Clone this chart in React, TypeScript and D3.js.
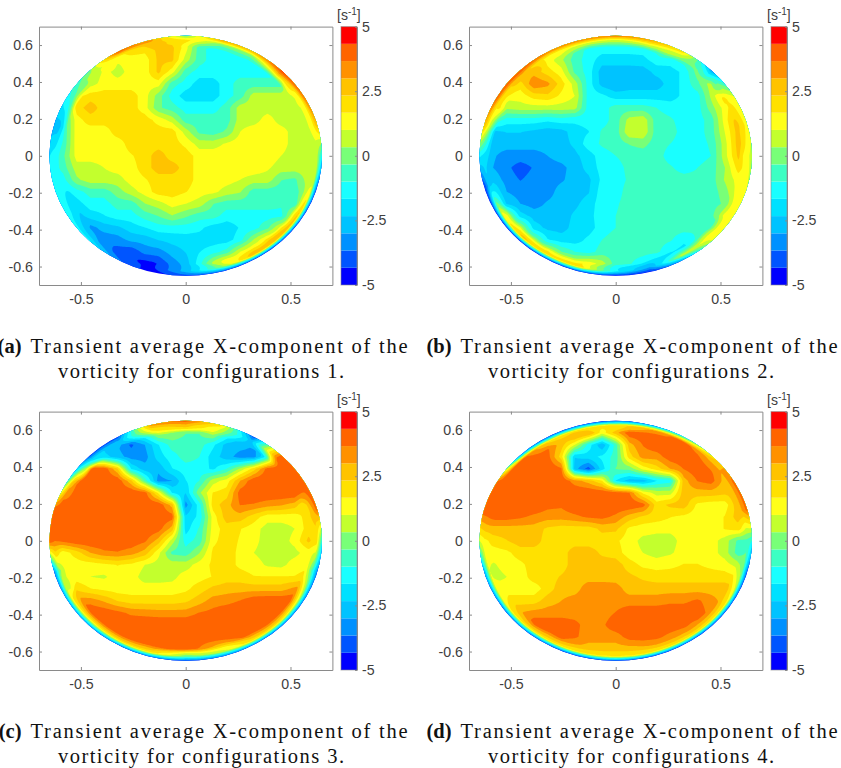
import * as d3 from "d3";
import { useEffect, useMemo, useRef } from "react";

const xTicks = [-0.5, 0, 0.5];
const yTicks = [-0.6, -0.4, -0.2, 0, 0.2, 0.4, 0.6];
const barTicks = [-5, -2.5, 0, 2.5, 5];
const bandColors = [
  "#0000ff", "#0055ff", "#0091ff", "#00c3ff", "#00e1ff",
  "#19ffff", "#3cffc3", "#78ff78", "#c3ff2d", "#ffff19",
  "#ffe100", "#ffc300", "#ff9100", "#ff6400", "#ff0000",
];

// readings on a 0.065 grid, top row first, each row centred on x = 0
const vorticityA = [
  [2, 0.7, -0.7],
  [2, 2, 2.5, 2.5, 1.3, -0.7, -1.3, -1.3, -0.7],
  [3, 1.1, 1.3, 1.3, 2.5, 2.5, 0.7, -0.7, -1.3, -1.3, -1.3, -1.3, -1.3],
  [0, 1.3, 0.7, 1.3, 1.3, 2.5, 1.3, -0.7, -1.3, -1.3, -1.3, -1.3, -1.3, -1.3, -1.3],
  [-0.7, 0.7, 1.3, 1.3, 1.3, 1.3, 1.3, -0.7, -1.3, -2, -2, -1.3, -0.7, -0.7, -0.7, -0.7, 3],
  [-1, 1.4, 2, 2, 2, 2, 1.3, 0, -1.3, -2, -2, -2, -1.3, -0.7, 0.7, 0.7, 0.7, 0.7, 3],
  [-1, 2, 2.7, 2, 2, 2, 1.3, -0.2, -0.7, -1.3, -1.3, -1.3, -0.7, 0.7, 0.7, 0.7, 0.7, 0.7, 0.7],
  [-1, 1.4, 2, 2, 2, 2, 2, 1.4, 0.7, -0.7, -0.7, -0.7, -0.7, 0.7, 0.7, 1.3, 0.7, 0.7, 0.7],
  [-1, 1.4, 1.3, 1.3, 2, 2, 2, 2, 2, 0.7, -0.5, -0.7, -0.2, 1, 1.4, 1.4, 1.3, 0.7, 0.7],
  [-0.9, 1.4, 1.4, 1.3, 1.3, 2, 2, 2, 2, 1.5, 0.7, 0.7, 1.1, 1.4, 1.4, 1.4, 1.3, 0.7, 0.7],
  [-1.3, -0.5, 1.3, 1.3, 1.3, 1.3, 1.6, 2, 2.7, 2, 2, 1.4, 1.4, 1.4, 1.4, 1.4, 1.4, 1, 0.7, 0.7, -1.3],
  [-0.7, 0.7, 0.7, 1, 1.3, 1.4, 2, 2.7, 2.7, 2, 1.4, 1.4, 1.4, 1.4, 1.4, 1.1, 0.7, 0.7, 0.7],
  [-1.3, 0.2, 0.7, 0.7, 0.7, 1.3, 1.6, 2, 2, 2, 1.4, 1.4, 1.3, 1, 0.7, 0.7, -0.3, -0.5, 0.7],
  [-2, -1.3, -0.7, -0.7, 0, 0.7, 1.3, 2, 2, 1.7, 1.3, 1.2, 0.7, 0.4, -0.7, -0.7, -0.7, -0.7, 0.5],
  [-2.7, -2, -1.3, -1.3, -0.7, -0.7, 0.3, 0.7, 1.3, 1, 0.7, -0.3, -0.7, -0.7, -0.7, -0.7, -0.9, -0.7, 1.3],
  [-2.7, -2, -1.7, -1.3, -1.3, -0.7, -0.3, 0.3, -0.2, -0.7, -0.7, -1.3, -1.3, -1.3, -1.3, -1.2, 1],
  [-3.3, -2.7, -2.5, -2, -1.7, -1.3, -1.3, -1.3, -1.5, -2, -2.1, -1.6, -1.3, -0.5, 1.2],
  [-3.5, -3.5, -3.3, -2.8, -2.7, -2.3, -2.1, -2, -2, -2, -2, -1.3, 0.4, 1.8, 2.5],
  [-4, -4.2, -3.4, -3.3, -2.7, -2.3, -1.7, -1.3, -0.7, 1, 2],
  [-4.7, -4.7, -4.3, -3.4, -2.7, -1.3, 0.7, 2.3, 2.3],
  [-4, -3, -3],
];
const vorticityB = [
  [-0.7, 0, -0.7],
  [1.3, -0.3, -1.3, -1.3, -1.3, -1.3, -1.3, -0.7, 1.3],
  [4, 1.3, 0.5, -0.7, -1.3, -2, -2, -2, -1.9, -1.3, -1.3, -0.7, 0.7],
  [2.7, 2.7, 2, 1.3, -0.5, -1.3, -2.7, -2.7, -2.7, -2.7, -2.1, -2, -1.5, 0, -1],
  [3, 2, 3.6, 3.2, 2, 0.7, -1.3, -2.6, -3, -2.7, -2.7, -2.7, -2, -1.5, -0.5, 0.7, -2.5],
  [2, 1.3, 1.3, 2, 2.2, 1.5, 1, -1.3, -1.5, -2, -2, -2, -2, -2, -1.5, -1.3, 0.5, 2.3, 1.5],
  [3, 0.5, 0.7, 0.7, 0.7, 0.7, 0.6, -1.3, -1.3, -0.7, -0.7, -0.7, -1, -1.3, -1.3, -1.3, 0, 1.3, 2.7],
  [-0.3, -1.3, -1.3, -1.3, -1.5, -1.3, -1.5, -1.4, -1.3, -0.7, 0.6, 0.8, -0.7, -0.9, -1.3, -1.3, -0.7, 1.3, 3],
  [-2.5, -2.3, -2.3, -2.5, -2.7, -2.6, -2, -1.7, -0.9, -0.7, 0.9, 0.9, -0.7, -0.7, -1.3, -1.3, -0.7, 1, 2.7],
  [-2.7, -2.7, -2.7, -2.7, -2.7, -2.6, -2.2, -1.3, -0.9, -0.7, -0.3, -0.1, -0.7, -1, -1.3, -1.3, -0.9, 0.7, 2.7],
  [-2, -2.9, -3.3, -3.3, -3.3, -3, -2.7, -2.5, -2, -1.3, -1, -0.7, -0.7, -0.7, -1.3, -1.3, -1.3, -1, 0.7, 2.5, 1],
  [-3, -3.5, -4, -3.6, -3.3, -3.2, -2.7, -2.1, -1.4, -1.3, -0.8, -0.7, -0.7, -0.9, -1.3, -1, -0.7, 0.3, 2],
  [-2.5, -3.3, -3.7, -3.4, -3.3, -3.1, -2.7, -2.5, -1.5, -1.3, -0.9, -0.7, -0.7, -0.7, -0.7, -0.8, -0.7, 0.4, 1.3],
  [-1.5, -3, -3.3, -3.3, -3.3, -2.7, -2.7, -2.4, -1.3, -1.3, -0.7, -0.7, -0.7, -0.7, -0.7, -0.7, -0.7, 0, 1.3],
  [-0.5, -2.4, -3, -3.3, -2.9, -2.7, -2.5, -2, -1.3, -1.1, -0.7, -0.7, -0.7, -0.7, -0.7, -0.7, -0.7, -0.2, 1],
  [0.7, -2, -2.6, -2.7, -2.7, -2.2, -1.9, -1.3, -1, -0.7, -0.7, -0.7, -0.7, -0.7, -0.7, -0.6, 1],
  [0.7, -2, -2.5, -2.6, -2.1, -2, -1.3, -1, -0.7, -0.7, -0.7, -0.7, -0.7, -1, -0.8],
  [1.5, 0.3, -1.6, -2, -2, -1.5, -1, -0.7, -0.7, -0.7, -0.7, -0.9, -1.5, -0.9, 1.3],
  [1.3, -0.3, -1, -1.3, -0.7, -0.7, -0.7, -0.7, -0.8, -1.6, -2],
  [2, 1.3, 1.5, 0.7, -0.7, -0.9, -1.5, -2.5, -3],
  [-2, -3, -4],
];
const vorticityC = [
  [3, 3.3, 3],
  [-1.3, -0.7, 0.7, 0.3, -0.3, -0.3, 0.7, -0.7, -2],
  [-3, -3, -3.8, -3, -1.7, -0.7, -0.7, -0.7, -1.5, -2.6, -2.7, -3, -3],
  [-2, -2, -2.7, -3.3, -3.3, -2, -1.3, -0.7, -1, -2, -2.7, -3.3, -3.3, -1.3, 3],
  [0, 4.2, 4.2, 2.4, -1.7, -2.7, -2.8, -1.7, -1.3, -1.3, -1.8, -1, 0.5, 2, 4, 4.3, 4],
  [1, 4.3, 4.3, 4.3, 4.2, 2.5, -0.5, -3.3, -3, -1.7, -1, 0.7, 1.3, 3, 4.2, 4.3, 4.3, 4.2, 2.7],
  [3, 4.3, 4.3, 4.3, 4.3, 4.3, 4, 1.5, -1.7, -2.3, 0.2, 1.7, 2, 4, 4.3, 4.3, 4.3, 4.3, 3],
  [4.3, 4.3, 4.3, 4.3, 4.3, 4.3, 4.3, 4.2, 2.7, -3.3, -1.3, 2, 2.7, 3.7, 3.6, 3.3, 3.1, 2.7, 1.3],
  [4.3, 4.3, 4.3, 4.3, 4.3, 4.3, 4.3, 4.3, 4, -2.2, -1.5, 1.3, 2.7, 2.7, 2, 1.3, 1.3, 1.3, 2],
  [4.3, 4.3, 4.3, 4.3, 4.3, 4.3, 4.3, 4, 2.7, -2, -0.9, 1.3, 2, 1.7, 1.3, 0.7, 0.7, 1, 2],
  [3.6, 3.9, 4.3, 4.3, 4.3, 4.3, 4.2, 3.8, 2.7, 0.7, -1.3, -0.7, 1.5, 2, 1.6, 1.2, 0.7, 0.7, 1.2, 2.5, 2],
  [1.3, 2, 3, 3.5, 3.6, 3.3, 2.7, 1.2, -0.5, -0.7, 0.3, 1.8, 2, 1.5, 1, 0.7, 0.7, 0.8, 1.3],
  [1.3, 1.3, 1.3, 1.5, 1.7, 1.5, 1, 0.7, 0.7, 0.7, 1.3, 1.8, 2, 1.5, 1.3, 0.9, 0.8, 1.3, 1.5],
  [1.3, 1.3, 1, 0.9, 1.3, 1.3, 0.7, 0.7, 0.8, 1.3, 1.4, 1.7, 2, 2, 1.7, 1.7, 1.7, 1.7, 2],
  [-0.5, 2.2, 1.7, 1.5, 1.3, 1.3, 1.3, 1.3, 1.3, 1.5, 2, 2.5, 2.7, 2.7, 2.7, 2.7, 2.7, 3.2, 3.5],
  [3.3, 3.4, 2.9, 2.3, 2, 2, 2, 2, 2.2, 2.7, 3.3, 3.4, 3.7, 4.2, 4.3, 4.3, 4.3],
  [4.3, 4.2, 3.9, 3.5, 3.4, 3.3, 3.3, 3.3, 3.7, 3.9, 4.2, 4.3, 4.3, 4.3, 4.3],
  [4.3, 4.3, 4.3, 4.3, 4.3, 4.3, 4.3, 4.3, 4.3, 4.3, 4.3, 4.3, 4.3, 4.3, 4],
  [4.3, 4.3, 4.3, 4.3, 4.3, 4.3, 4.3, 4.3, 4.3, 4, 3.6],
  [3.7, 3.5, 3.8, 4, 4, 3.6, 2.7, 1.5, 1],
  [0, -1, 0],
];
const vorticityD = [
  [1, 1, 1],
  [3, 4, 3.3, 1.3, 2.7, 4.2, 4.2, 4.2, 3.7],
  [3, 3.7, 2.7, 1, -1.3, -2.9, -0.7, 2.7, 3.7, 4.2, 4.3, 4.2, 3.8],
  [4, 4.2, 4, 2, -2.3, -2, -1.5, -0.7, 2, 3.3, 3.3, 4.1, 4.2, 4.2, 3],
  [4, 4.3, 4.3, 4.3, 3.8, -2.7, -4, -2, -0.3, -0.1, 1.2, 2, 3, 3.7, 4.2, 3.7, 2.7],
  [4, 4.3, 4.3, 4.3, 4.3, 4.3, 3.3, 2.7, 1.7, -1.7, -2.7, -2.7, -1.7, -1.3, 2.7, 3.7, 4, 2.7, 2],
  [4.2, 4.3, 4.3, 4.3, 4.3, 4.3, 4.3, 4.3, 4.2, 4, 3.7, 1.5, 0.7, 0.7, 2.7, 2.7, 2.7, 2.5, 2.7],
  [4.3, 4.3, 4.3, 4.3, 3.9, 3.8, 4.3, 4.3, 4.3, 4.3, 4.3, 4, 2, 2.5, 2.7, 1.5, 1.3, 1.3, 2.7],
  [4, 4, 3.8, 3.5, 3.3, 3.3, 3.5, 3.8, 3.9, 3.5, 2.7, 2.2, 2, 1.7, 1.5, 1.3, 1.3, 1.7, 2.7],
  [2.7, 2.7, 2.7, 2.7, 2.2, 2, 2, 2, 2.5, 2.5, 1.5, 1.3, 1.2, 1.2, 1.3, 1.3, 1.3, 1.7, 2],
  [1.5, 2, 2.3, 2.7, 2.7, 2, 2, 2, 2, 2, 1.8, 1.3, 0.8, 0.7, 0.7, 1.3, 1.3, 1.3, 0.7, -0.5, -0.7],
  [1.3, 1.5, 2, 2, 2, 2, 2.7, 2.7, 2.2, 2, 1.3, 1, 0.7, 0.9, 1.3, 1.3, 1.3, 0.7, -0.7],
  [0.9, 1.3, 1.5, 2, 2, 2, 2.7, 2.7, 2.7, 2.7, 2, 1.5, 1.4, 1.5, 1.7, 1.7, 1.5, 1.3, 0.7],
  [0.7, 1, 1.3, 2, 2, 2.4, 2.7, 2.7, 2.7, 2.7, 2.5, 2.2, 2, 2, 2, 2, 2, 2, 1.7],
  [1.3, 1.3, 1.3, 1.3, 2, 2.7, 2.7, 3.4, 3.4, 3.3, 2.7, 2.7, 2.7, 2.7, 2.7, 2.7, 2.7, 2.7, 2.5],
  [2, 2, 2, 2.7, 3, 3.3, 3.5, 3.5, 3.3, 3.3, 3.3, 3.3, 3.5, 3.5, 3.8, 3.3, 2.7],
  [3, 3.3, 3.3, 3.3, 3.3, 3.3, 3.3, 3.7, 4.2, 4.2, 4.2, 4.2, 4.2, 4.2, 3.3],
  [3.3, 4.2, 4.2, 4.2, 3.9, 3.3, 3.5, 4.2, 4.3, 4.3, 4.3, 4.2, 3.9, 3.3, 2.7],
  [3.3, 3.9, 3.8, 3.3, 3.3, 3.3, 4, 4.1, 3.9, 3.4, 3],
  [2.7, 2.7, 2.7, 2.7, 2.7, 2.7, 2.7, 2.7, 2.5],
  [2, 2, 2],
];

// values on the rim every 15 degrees, counter-clockwise from +x
const rimOuterA = [-1.3, 3, 4, 4.5, 3, 3.3, 0, 3.3, 4.3, 0, -1.3, -2.7, -1.7, -1.3, -1.3, -1.5, -3.5, -4.7, -4, -4, -4.3, -4.3, -4.3, -4];
const rimInnerA = [0.7, 1.3, 1.3, 2.7, 0, 0, 2, 2.6, 1.5, 0.7, -0.7, -2.7, -1.3, -1.3, -1.7, -2.7, -4, -4.5, -2.7, 0, 2.7, 3, 2.5, 1];
const rimOuterB = [0.7, 1.3, 1, -3, 2, 3.3, 3.7, 3.7, 3.7, 4.3, 4.3, 3, -1.5, -4.5, -4.5, -4.5, -4.5, -4.3, -4.5, -4.5, -3, 1, 1, 1];
const rimInnerB = [1.3, 2, 1.5, -1.5, 0.7, 1.3, 0.7, 1, 1.3, 2.7, 2, 1, -2, -2.5, 1.3, 2.7, 2, 2, -1.5, -3, 0.7, 1.3, 1.3, 1.3];
const rimOuterC = [-1, 4, 4.3, 4, -4, 2, 4, 3.3, -4, -4, -0.7, 4.2, 4.2, -3.5, -3, -3, -3.5, -3.5, -4, -3.5, -3.5, -3.5, -3.5, -3.5];
const rimInnerC = [2, 2.7, 4.2, 4.2, -2.7, 1, 2.7, 2, -2.7, -2, 2.7, 4.3, 3.7, 0, 1.5, 1.5, 2, 2, 0, 0.7, 2, 2, 1, -0.7];
const rimOuterD = [-1, 4, 4, 2, -1, -3, -4, -4, -4, -3, 3.7, 4.2, 1, -3, -3.5, -3.5, -4, -4, -4, -4, -4, -4, -4, -4];
const rimInnerD = [-0.5, 3, 3, 3, 4, 3, 2, 2, 2, 4, 4.3, 4.2, 1.5, 1, 1.3, 2, 2, 2, 1.7, 2, 2, 2, 1.5, 0];

const panels = [
  { label: "(a)", config: 1, rows: vorticityA, outer: rimOuterA, inner: rimInnerA, dx: 0, dy: 0 },
  { label: "(b)", config: 2, rows: vorticityB, outer: rimOuterB, inner: rimInnerB, dx: 430, dy: 0 },
  { label: "(c)", config: 3, rows: vorticityC, outer: rimOuterC, inner: rimInnerC, dx: 0, dy: 385 },
  { label: "(d)", config: 4, rows: vorticityD, outer: rimOuterD, inner: rimInnerD, dx: 430, dy: 385 },
];

const R = 0.65;
const gridStep = 0.065;
const gridSize = 21;
const fineStep = 0.005;
const fineEdge = 0.66;
const fineSize = Math.round((2 * fineEdge) / fineStep) + 1;

const axisColor = "#8a8a8a";
const textColor = "#404040";
const sansFont = "'Liberation Sans', Arial, sans-serif";
const serifFont = "'Liberation Serif', 'Times New Roman', serif";

function padRows(rows: number[][]) {
  return rows.map((row) => {
    const start = (gridSize - row.length) / 2;
    return d3.range(gridSize).map((i) => row[Math.min(row.length - 1, Math.max(0, i - start))]);
  });
}

function rimAt(rim: number[], angle: number) {
  const t = angle / 15;
  const a = Math.floor(t) % 24;
  return d3.interpolateNumber(rim[a], rim[(a + 1) % 24])(t - Math.floor(t));
}

// resample the readings to a fine raster so d3.contours can trace the bands
function buildField(rows: number[][], outer: number[], inner: number[]) {
  const grid = padRows(rows);
  const values = new Float64Array(fineSize * fineSize);
  for (let j = 0; j < fineSize; j++) {
    const y = fineEdge - j * fineStep;
    for (let i = 0; i < fineSize; i++) {
      const x = -fineEdge + i * fineStep;
      const gx = Math.min(gridSize - 1.001, Math.max(0, (x + R) / gridStep));
      const gy = Math.min(gridSize - 1.001, Math.max(0, (R - y) / gridStep));
      const ix = Math.floor(gx);
      const iy = Math.floor(gy);
      const fx = gx - ix;
      const fy = gy - iy;
      const top = grid[iy][ix] * (1 - fx) + grid[iy][ix + 1] * fx;
      const bottom = grid[iy + 1][ix] * (1 - fx) + grid[iy + 1][ix + 1] * fx;
      let v = top * (1 - fy) + bottom * fy;
      const r = Math.hypot(x, y);
      if (r > R - 0.06) {
        const angle = ((Math.atan2(y, x) * 180) / Math.PI + 360) % 360;
        const a = rimAt(outer, angle);
        const b = rimAt(inner, angle);
        if (r >= R) v = a;
        else if (r >= R - 0.025) v = b + ((a - b) * (r - (R - 0.025))) / 0.025;
        else v = v + ((b - v) * (r - (R - 0.06))) / 0.035;
      }
      values[i + j * fineSize] = Math.max(-4.99, Math.min(4.99, v));
    }
  }
  return values;
}

const bandEdges = d3.range(bandColors.length).map((k) => -5 + (k * 10) / bandColors.length);

function styleAxis(g: any) {
  g.selectAll(".domain").attr("stroke", axisColor);
  g.selectAll(".tick line").attr("stroke", axisColor);
  g.selectAll(".tick text")
    .attr("fill", textColor)
    .attr("font-family", sansFont)
    .attr("font-size", 14.2);
}

function Panel({ panel, index }: { panel: (typeof panels)[number]; index: number }) {
  const gLeft = useRef<SVGGElement>(null);
  const gRight = useRef<SVGGElement>(null);
  const gTop = useRef<SVGGElement>(null);
  const gBottom = useRef<SVGGElement>(null);
  const gBar = useRef<SVGGElement>(null);

  const left = 39;
  const right = 332.4;
  const top = 26.6;
  const bottom = 285;
  const barLeft = 341;
  const barRight = 357;

  const x = d3.scaleLinear([-0.7, 0.7], [left, right]);
  const y = d3.scaleLinear([-0.7, 0.7], [bottom, top]);
  const barY = d3.scaleLinear([-5, 5], [bottom, top]);

  const paths = useMemo(() => {
    const values = buildField(panel.rows, panel.outer, panel.inner);
    const gridX = d3.scaleLinear([0.5, fineSize - 0.5], [-fineEdge, fineEdge]);
    const gridY = d3.scaleLinear([0.5, fineSize - 0.5], [fineEdge, -fineEdge]);
    const project = d3.geoTransform({
      point(px: number, py: number) {
        (this as any).stream.point(x(gridX(px)), y(gridY(py)));
      },
    });
    const path = d3.geoPath(project);
    return d3
      .contours()
      .size([fineSize, fineSize])
      .thresholds(bandEdges)(values as any)
      .map((c) => path(c) as string);
  }, [panel]);

  useEffect(() => {
    const tick = (s: number) => (d: any) => (s ? String(d) : "");
    d3.select(gBottom.current as any)
      .call(d3.axisBottom(x).tickValues(xTicks).tickSize(-3).tickPadding(9).tickSizeOuter(0).tickFormat(tick(1)))
      .call(styleAxis);
    d3.select(gTop.current as any)
      .call(d3.axisTop(x).tickValues(xTicks).tickSize(-3).tickSizeOuter(0).tickFormat(tick(0)))
      .call(styleAxis);
    d3.select(gLeft.current as any)
      .call(d3.axisLeft(y).tickValues(yTicks).tickSize(-3).tickPadding(6).tickSizeOuter(0).tickFormat(tick(1)))
      .call(styleAxis);
    d3.select(gRight.current as any)
      .call(d3.axisRight(y).tickValues(yTicks).tickSize(-3).tickSizeOuter(0).tickFormat(tick(0)))
      .call(styleAxis);
    d3.select(gBar.current as any)
      .call(d3.axisRight(barY).tickValues(barTicks).tickSize(-2).tickPadding(5).tickSizeOuter(0).tickFormat(tick(1)))
      .call(styleAxis);
  }, []);

  const clipId = `disc-${index}`;
  return (
    <g transform={`translate(${panel.dx},${panel.dy})`}>
      <clipPath id={clipId}>
        <ellipse cx={x(0)} cy={y(0)} rx={x(R) - x(0)} ry={y(0) - y(R)} />
      </clipPath>
      <g clipPath={`url(#${clipId})`}>
        {paths.map((d, k) => (
          <path key={k} d={d} fill={bandColors[k]} />
        ))}
      </g>
      <g ref={gTop} transform={`translate(0,${top})`} />
      <g ref={gBottom} transform={`translate(0,${bottom})`} />
      <g ref={gLeft} transform={`translate(${left},0)`} />
      <g ref={gRight} transform={`translate(${right},0)`} />
      {bandColors.map((c, k) => (
        <rect
          key={c}
          x={barLeft}
          width={barRight - barLeft}
          y={barY(bandEdges[k] + 10 / bandColors.length)}
          height={barY(bandEdges[k]) - barY(bandEdges[k] + 10 / bandColors.length)}
          fill={c}
        />
      ))}
      <rect x={barLeft} y={top} width={barRight - barLeft} height={bottom - top} fill="none" stroke={axisColor} strokeOpacity={0.6} />
      <g ref={gBar} transform={`translate(${barRight},0)`} />
      <text x={337} y={20} fontFamily={sansFont} fontSize={14} fill={textColor}>
        [s<tspan dy={-5} fontSize={10}>-1</tspan><tspan dy={5}>]</tspan>
      </text>
      <g fontFamily={serifFont} fontSize={20.5} fill="#111">
        <text x={21.5} y={353} textAnchor="end" fontWeight="bold">{panel.label}</text>
        <text x={30.5} y={353} textLength={377} lengthAdjust="spacing">Transient average X-component of the</text>
        <text x={58} y={377.5} textLength={286} lengthAdjust="spacing">{`vorticity for configurations ${panel.config}.`}</text>
      </g>
    </g>
  );
}

export default function App() {
  return (
    <svg width={841} height={768} style={{ position: "absolute", left: 0, top: 0 }}>
      {panels.map((p, i) => (
        <Panel key={p.label} panel={p} index={i} />
      ))}
    </svg>
  );
}
